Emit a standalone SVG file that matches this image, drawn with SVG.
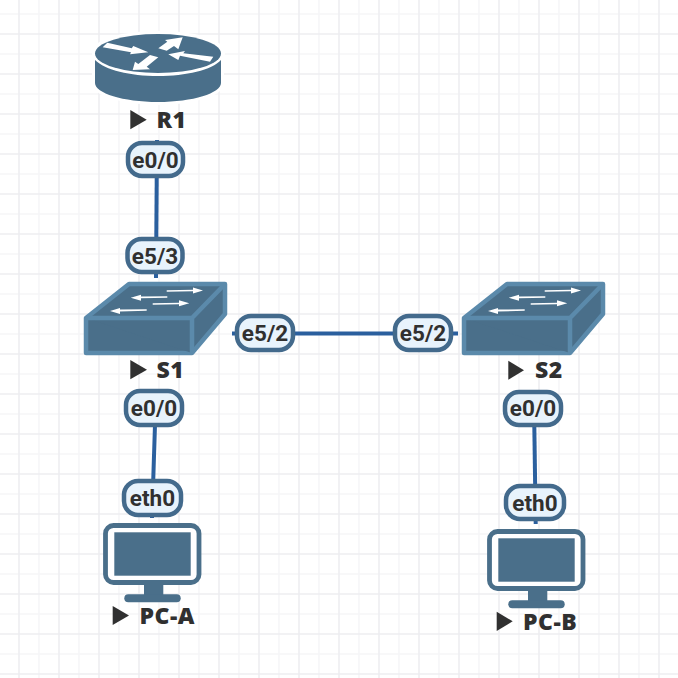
<svg xmlns="http://www.w3.org/2000/svg" width="678" height="678" viewBox="0 0 678 678">
<style>
.gmaj{stroke:#eeeef1;stroke-width:1.6;fill:none}
.gmin{stroke:#f6f6f8;stroke-width:1.6;fill:none}
.link{stroke:#2a5f9e;stroke-width:4;fill:none}
.pill{fill:#e8f3fc;stroke:#436a8c;stroke-width:4.500}
.plab{font:700 22.500px Roboto,"Liberation Sans",Arial,sans-serif;fill:#303030;text-anchor:middle}
.nlab{font:800 23px "Open Sans","Liberation Sans",sans-serif;fill:#303030;letter-spacing:.5px}
.tri{fill:#303030}
.body{fill:#4a6f8a}
.sw{fill:#4a6f8a;stroke:#5b8aab;stroke-width:4.500;stroke-linejoin:round}
.ar{fill:#fff}
</style>
<defs>
<pattern id="g" width="40" height="40" patternUnits="userSpaceOnUse" x="0" y="0">
<path class="gmin" d="M39 0V40M0 14H40"/>
<path class="gmaj" d="M19 0V40M0 34H40"/>
</pattern>
<g id="swi">
<path class="sw" d="M2 36L45 2H141V32L108 71H2Z"/>
<path class="sw" fill="none" d="M2 36H108V71M108 36L141 2"/>
<path class="ar" d="M82.700 8.300L109 7.800V5.500L119 8.500L109 11.500V9.300L82.700 9.800Z"/>
<path class="ar" d="M46.700 15.700L57 12.700V14.400L83.300 14.300V15.700L57 16.300V18.700Z"/>
<path class="ar" d="M68.700 21.300L95 20.700V18.300L105.300 21.300L95 24.300V22.200L68.700 22.800Z"/>
<path class="ar" d="M26 29L36 26V27.600L62.700 27.300V28.700L36 29.600V32Z"/>
</g>
<g id="pc">
<rect x="2.500" y="2.500" width="93.500" height="57" rx="8" fill="#fff" stroke="#4a6f8a" stroke-width="4.800"/>
<rect x="11.300" y="9.300" width="76.400" height="43.400" class="body"/>
<rect x="41" y="61" width="19.300" height="12" class="body"/>
<rect x="21.300" y="71.300" width="56.400" height="8" rx="4" class="body"/>
</g>
</defs>
<rect width="678" height="678" fill="#fff"/>
<rect width="678" height="678" fill="url(#g)"/>
<g id="connectors">
<path class="link" d="M157 140L156 278"/>
<path class="link" d="M232 333.500H458"/>
<path class="link" d="M155 425L152 518"/>
<path class="link" d="M534.300 425L535.700 524"/>
</g>
<g id="R1">
<path d="M95 53C95 42 122 34 158 34S222 42 222 53C222 60 218 64 221 66V83C221 93 193 102 158 102S95 93 95 83V66C98 64 95 60 95 53Z" fill="#fff" stroke="#fff" stroke-width="6"/>
<ellipse cx="158" cy="53.500" rx="63" ry="19.500" class="body"/>
<path d="M95 60C105 70 130 76 158 76S212 70 221 60V83C221 93 193 102 158 102S95 93 95 83Z" class="body"/>
<path class="ar" d="M102.700 47.300L107.300 42.700L131.700 48.300L133.300 46L148.300 52.300L130 54.300L131 52.300Z"/>
<path class="ar" d="M158.300 48.300L167.300 41.700L165 40L182.700 37.300L178.300 49.300L174 46L166.700 50.700Z"/>
<path class="ar" d="M168.300 54.300L185 51L183.300 53.300L213.300 56.700L210 61.700L180 55.700L178.300 60Z"/>
<path class="ar" d="M132.700 70L135 61.700L138.300 64L150 55L158.300 57.300L146.700 66.700L150 69.300Z"/>
<path class="tri" d="M130.300 110L146.700 119.700L130.300 129.300Z"/>
<text class="nlab" x="156.500" y="127.700">R1</text>
</g>
<g id="S1">
<use href="#swi" x="84" y="282"/>
<path class="tri" d="M130.300 360L147 369.700L130.300 379.300Z"/>
<text class="nlab" x="156.500" y="377.700">S1</text>
</g>
<g id="S2">
<use href="#swi" x="462" y="282"/>
<path class="tri" d="M508.300 360.700L524 370.200L508.300 379.700Z"/>
<text class="nlab" x="535" y="377.700">S2</text>
</g>
<g id="PC-A">
<use href="#pc" x="103" y="523"/>
<path class="tri" d="M112.700 606L129 615.500L112.700 625Z"/>
<text class="nlab" x="139.500" y="624.300">PC-A</text>
</g>
<g id="PC-B">
<use href="#pc" x="487" y="529"/>
<path class="tri" d="M496.700 611.700L512.700 621.300L496.700 631Z"/>
<text class="nlab" x="523" y="630">PC-B</text>
</g>
<g id="labels">
<rect class="pill" x="128" y="143" width="55" height="33" rx="14"/><text class="plab" x="155.500" y="167.500">e0/0</text>
<rect class="pill" x="127.500" y="239" width="55" height="33" rx="14"/><text class="plab" x="155" y="263.500">e5/3</text>
<rect class="pill" x="237" y="316" width="56" height="34" rx="14"/><text class="plab" x="265" y="341">e5/2</text>
<rect class="pill" x="395" y="316" width="56" height="34" rx="14"/><text class="plab" x="423" y="341">e5/2</text>
<rect class="pill" x="126" y="391" width="56" height="34" rx="14"/><text class="plab" x="154" y="416">e0/0</text>
<rect class="pill" x="505" y="392" width="56" height="33" rx="14"/><text class="plab" x="533" y="416">e0/0</text>
<rect class="pill" x="124" y="481" width="57" height="34" rx="14"/><text class="plab" x="152.500" y="506">eth0</text>
<rect class="pill" x="506" y="486" width="58" height="33" rx="14"/><text class="plab" x="535" y="510.500">eth0</text>
</g>
</svg>
